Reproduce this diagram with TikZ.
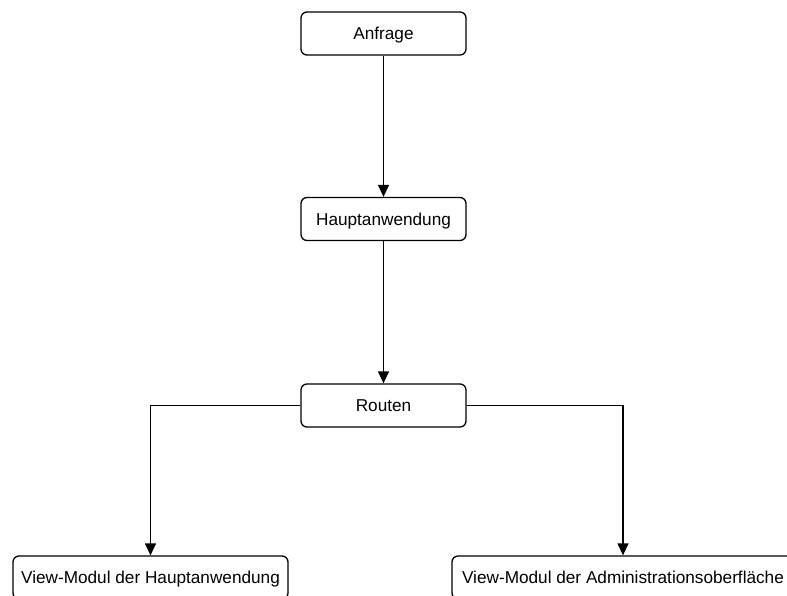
\documentclass[tikz,border=0pt]{standalone}
\usepackage{fontspec}
\setmainfont{Liberation Sans}
\usetikzlibrary{arrows.meta}
\begin{document}
\begin{tikzpicture}[x=1pt,y=-1pt,
  box/.style={draw=black,line width=1.3pt,rounded corners=6pt,fill=white,
    minimum width=165pt,minimum height=43pt,inner sep=0pt,anchor=center,
    text height=12.3pt,text depth=0pt,
    font=\fontsize{17.2}{20}\selectfont},
  conn/.style={draw=black,line width=1.3pt,-{Triangle[length=12pt,width=11pt]}}]
\useasboundingbox (0,0) rectangle (787,595);
\begin{scope}
\clip (0,0) rectangle (787,595);
\node[box] (anfrage) at (383.5,33.5) {Anfrage};
\node[box] (haupt) at (383.5,219) {Hauptanwendung};
\node[box] (routen) at (383.5,405.5) {Routen};
\node[box,minimum width=275pt] (viewh) at (150.5,577.5) {View-Modul der Hauptanwendung};
\node[box,minimum width=342pt] (viewa) at (623,577.5) {View-Modul der Administrationsoberfläche};
\draw[conn] (anfrage) -- (haupt);
\draw[conn] (haupt) -- (routen);
\draw[conn] (routen.west) -| (viewh.north);
\draw[conn] (routen.east) -| (viewa.north);
\end{scope}
\end{tikzpicture}
\end{document}
